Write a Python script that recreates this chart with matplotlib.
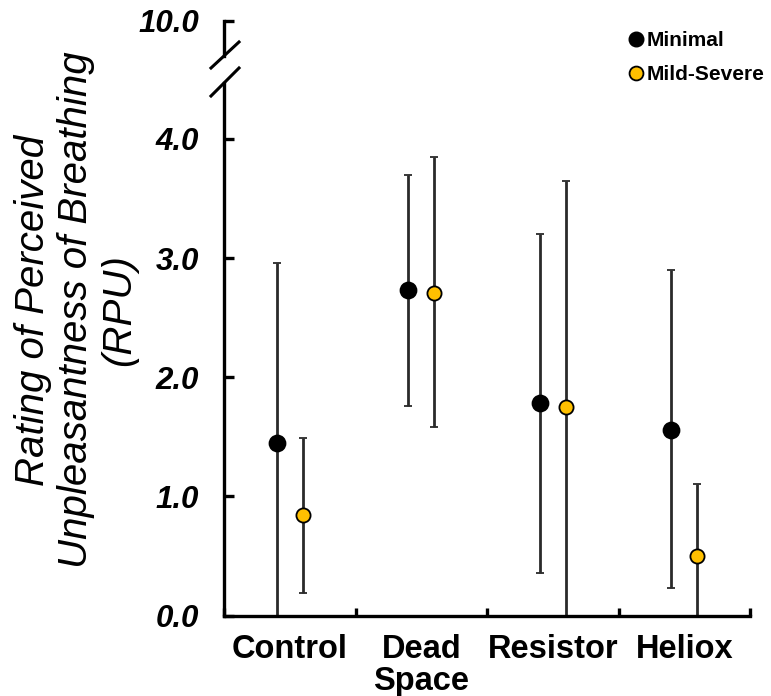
import matplotlib.pyplot as plt
from matplotlib.lines import Line2D
import numpy as np

plt.rcParams['font.family'] = ['Liberation Sans', 'DejaVu Sans']

groups = ['Control', 'Dead\nSpace', 'Resistor', 'Heliox']

# RPU means with the ends of each error bar
minimal_mean = [1.45, 2.73, 1.78, 1.56]
minimal_upper = [2.96, 3.70, 3.20, 2.90]
minimal_lower = [0.0, 1.76, 0.36, 0.23]

mild_mean = [0.84, 2.71, 1.75, 0.50]
mild_upper = [1.49, 3.85, 3.65, 1.10]
mild_lower = [0.19, 1.58, 0.0, 0.0]

W, H = 771, 696
fig = plt.figure(figsize=(W / 100, H / 100), dpi=100)


def box(l, t, r, b):
    return [l / W, 1 - b / H, (r - l) / W, (b - t) / H]


ax = fig.add_axes(box(224, 83, 750, 615.5))
ax_top = fig.add_axes(box(224, 20.7, 750, 56))

x = np.arange(len(groups))
spine_w = 2.4
tick_font = dict(fontsize=22.5, fontweight='bold', fontstyle='italic')


def bars(mean, lower, upper, pos, face, size):
    mean = np.array(mean)
    err = [mean - np.array(lower), np.array(upper) - mean]
    ax.errorbar(pos, mean, yerr=err, fmt='o', ms=size, mfc=face, mec='black',
                mew=1.3, ecolor='#2a2a2a', elinewidth=2.0, capsize=3.2,
                capthick=2.0, zorder=3)


bars(minimal_mean, minimal_lower, minimal_upper, x + 0.4, 'black', 11.5)
bars(mild_mean, mild_lower, mild_upper, x + 0.6, '#FFC000', 10.2)

ax.set_xlim(0, 4)
ax.set_ylim(0, 4.47)
ax.set_yticks([0, 1, 2, 3, 4])
ax.set_yticklabels(['0.0', '1.0', '2.0', '3.0', '4.0'], **tick_font)
ax.set_xticks([0, 1, 2, 3, 4])
ax.set_xticklabels([])
ax.set_xticks(x + 0.5, minor=True)
ax.set_xticklabels(groups, minor=True, fontsize=23.5, fontweight='bold',
                   va='top', linespacing=1.05)
ax.tick_params(axis='x', which='major', direction='in', length=5.5, width=spine_w)
ax.tick_params(axis='x', which='minor', length=0, pad=13)
ax.tick_params(axis='y', direction='in', length=7.5, width=spine_w, pad=18)
for s in ['top', 'right']:
    ax.spines[s].set_visible(False)
for s in ['left', 'bottom']:
    ax.spines[s].set_linewidth(spine_w)
    ax.spines[s].set_zorder(4)

ax_top.set_xlim(0, 4)
ax_top.set_ylim(10 - 35.3 / 119.1, 10)
ax_top.set_yticks([10])
ax_top.set_yticklabels(['10.0'], **tick_font)
ax_top.set_xticks([])
ax_top.tick_params(axis='y', direction='in', length=7.5, width=spine_w, pad=18)
for s in ['top', 'right', 'bottom']:
    ax_top.spines[s].set_visible(False)
ax_top.spines['left'].set_linewidth(spine_w)
ax_top.patch.set_alpha(0)

# axis break slashes
for (x0, y0), (x1, y1) in [((211, 68), (239, 42)), ((211, 96), (239, 68))]:
    fig.add_artist(Line2D([x0 / W, x1 / W], [1 - y0 / H, 1 - y1 / H],
                          transform=fig.transFigure, color='black', lw=2.2))

fig.text(76 / W, 1 - 310 / H,
         'Rating of Perceived\nUnpleasantness of Breathing\n(RPU)',
         rotation=90, ha='center', va='center', multialignment='center',
         fontsize=29, fontstyle='italic', linespacing=1.17)

handles = [
    Line2D([], [], ls='none', marker='o', ms=10.5, mfc='black', mec='black'),
    Line2D([], [], ls='none', marker='o', ms=10, mfc='#FFC000', mec='black', mew=1.3),
]
fig.legend(handles, ['Minimal', 'Mild-Severe'], loc='upper left',
           bbox_to_anchor=(628 / W, 1 - 31 / H), frameon=False,
           prop=dict(size=15, weight='bold'), handlelength=0.8,
           handletextpad=0.1, labelspacing=0.72, borderpad=0, borderaxespad=0)

fig.savefig('out.png', dpi=100)
